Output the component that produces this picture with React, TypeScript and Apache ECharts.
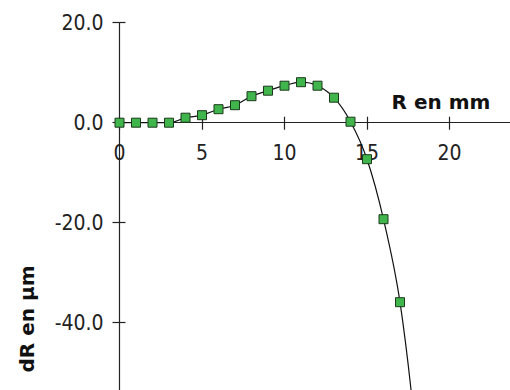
import React, { useEffect, useRef } from "react";
import * as echarts from "echarts";

const radii = [0, 1, 2, 3, 4, 5, 6, 7, 8, 9, 10, 11, 12, 13, 14, 15, 16, 17, 18];
const deltas = [0, 0, 0, 0, 1.0, 1.5, 2.7, 3.5, 5.3, 6.4, 7.4, 8.1, 7.4, 5.0, 0.2, -7.3, -19.3, -35.9, -64];
const xTitle = "R en mm";
const yTitle = "dR en µm";

const labelFont = "'Liberation Sans Narrow', 'DejaVu Sans Condensed', 'Liberation Sans', Arial, sans-serif";
const titleFont = "'DejaVu Sans', Verdana, sans-serif";

export default function App() {
  const ref = useRef<HTMLDivElement>(null);
  useEffect(() => {
    document.body.style.margin = "0";
    const chart = echarts.init(ref.current!, null, { renderer: "svg" });
    const ink = "#222";
    const baseX = {
      type: "value" as const,
      min: 0,
      max: 25,
      interval: 5,
      position: "bottom" as const,
      splitLine: { show: false },
    };
    const baseY = {
      type: "value" as const,
      min: -80,
      max: 20,
      interval: 20,
      position: "left" as const,
      splitLine: { show: false },
    };
    const gridBox = { left: 119.5, right: -22, top: 22.7, containLabel: false, outerBoundsMode: "none" };
    chart.setOption({
      animation: false,
      grid: [
        { ...gridBox, bottom: -132.7 },
        { ...gridBox, height: 100 },
      ],
      xAxis: [
        {
          ...baseX,
          gridIndex: 0,
          axisLine: { show: true, onZero: true, lineStyle: { color: ink, width: 1.2 } },
          axisTick: { show: true, inside: true, length: 6, lineStyle: { color: ink, width: 1.2 } },
          axisLabel: { show: false },
        },
        {
          ...baseX,
          gridIndex: 1,
          axisLine: { show: false, onZero: false },
          axisTick: { show: true, inside: false, length: 7, lineStyle: { color: ink, width: 1.2 } },
          axisLabel: {
            show: true,
            margin: 20,
            color: ink,
            fontSize: 21,
            fontFamily: labelFont,
            showMinLabel: true,
            showMaxLabel: false,
            formatter: (v: number) => (v > 22 ? "" : String(v)),
          },
        },
      ],
      yAxis: [
        {
          ...baseY,
          gridIndex: 0,
          axisLine: { show: true, onZero: false, lineStyle: { color: ink, width: 1.2 } },
          axisTick: { show: true, inside: false, length: 7, lineStyle: { color: ink, width: 1.2 } },
          axisLabel: {
            show: true,
            margin: 16,
            color: ink,
            fontSize: 21,
            fontFamily: labelFont,
            showMinLabel: false,
            formatter: (v: number) => (v < -50 ? "" : v.toFixed(1)),
          },
        },
        {
          ...baseY,
          gridIndex: 0,
          axisLine: { show: false, onZero: false },
          axisTick: { show: true, inside: true, length: 6, lineStyle: { color: ink, width: 1.2 } },
          axisLabel: { show: false },
        },
        {
          type: "value",
          gridIndex: 1,
          min: 0,
          max: 20,
          show: false,
        },
      ],
      graphic: [
        {
          type: "text",
          x: 441,
          y: 101.5,
          style: {
            text: xTitle,
            fill: "#111",
            font: `bold 20px ${titleFont}`,
            align: "center",
            verticalAlign: "middle",
          },
        },
        {
          type: "text",
          x: 27,
          y: 319,
          rotation: Math.PI / 2,
          style: {
            text: yTitle,
            fill: "#111",
            font: `bold 20px ${titleFont}`,
            align: "center",
            verticalAlign: "middle",
          },
        },
      ],
      series: [
        {
          type: "line",
          xAxisIndex: 0,
          yAxisIndex: 0,
          data: radii.map((r, i) => [r, deltas[i]]),
          smooth: 0.4,
          symbol: "rect",
          symbolSize: 9,
          showAllSymbol: true,
          itemStyle: { color: "#3fb54c", borderColor: "#1c3a1c", borderWidth: 1 },
          lineStyle: { color: "#111", width: 1.2 },
          clip: true,
        },
      ],
    });
    return () => chart.dispose();
  }, []);
  return <div ref={ref} style={{ width: 510, height: 390 }} />;
}
